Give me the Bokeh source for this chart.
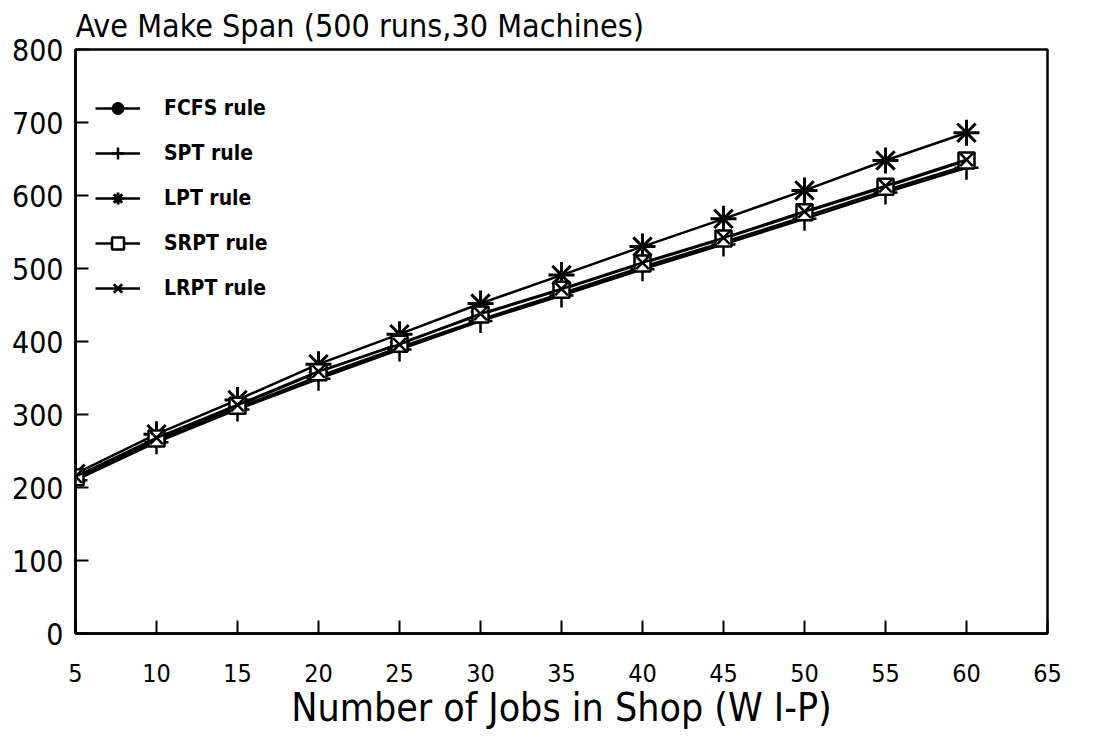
from bokeh.plotting import figure
from bokeh.models import Range1d, FixedTicker, Legend, LegendItem
from bokeh.embed import file_html
from bokeh.resources import INLINE

jobs = [5, 10, 15, 20, 25, 30, 35, 40, 45, 50, 55, 60]
fcfs = [212, 264, 309, 352, 392, 430, 466, 502, 536, 571, 607, 641]
spt = [210, 262, 307, 349, 389, 428, 463, 499, 533, 568, 604, 638]
lpt = [219, 273, 320, 369, 410, 452, 491, 530, 568, 607, 648, 686]
srpt = [214, 267, 312, 358, 397, 437, 471, 507, 541, 577, 612, 648]
lrpt = [215, 268, 313, 359, 396, 438, 472, 508, 542, 578, 613, 649]
x_ticks = [5, 10, 15, 20, 25, 30, 35, 40, 45, 50, 55, 60, 65]
y_ticks = [0, 100, 200, 300, 400, 500, 600, 700, 800]

FONT = "DejaVu Sans Condensed"

p = figure(width=1080, height=732, output_backend="svg", toolbar_location=None,
           x_range=Range1d(5, 65), y_range=Range1d(0, 800),
           min_border_left=75, min_border_right=33, min_border_top=47, min_border_bottom=95,
           title="Ave  Make Span (500 runs,30 Machines)")
p.title.text_font = FONT
p.title.text_font_size = "32px"
p.title.text_font_style = "normal"
p.title.text_color = "black"
p.title.offset = 0
p.title.standoff = 9

p.xgrid.visible = False
p.ygrid.visible = False
p.outline_line_color = "black"
p.outline_line_width = 2.5
p.outline_line_alpha = 1

for ax in (p.xaxis[0], p.yaxis[0]):
    ax.axis_line_width = 2.5
    ax.axis_line_color = "black"
    ax.major_tick_in = 13
    ax.major_tick_out = 0
    ax.major_tick_line_width = 2
    ax.minor_tick_line_color = None
    ax.major_label_text_font = FONT
    ax.major_label_text_color = "black"

p.xaxis.ticker = FixedTicker(ticks=x_ticks)
p.yaxis.ticker = FixedTicker(ticks=y_ticks)
p.xaxis.major_label_text_font_size = "25px"
p.yaxis.major_label_text_font_size = "30px"
p.xaxis.major_label_standoff = 30
p.yaxis.major_label_standoff = 12
p.xaxis.axis_label = "Number of Jobs in Shop (W I-P)"
p.xaxis.axis_label_text_font = FONT
p.xaxis.axis_label_text_font_size = "39px"
p.xaxis.axis_label_text_font_style = "normal"
p.xaxis.axis_label_text_color = "black"
p.xaxis.axis_label_standoff = 0

LW = 2.5
r1 = p.line(jobs, fcfs, line_color="black", line_width=LW)
m1 = p.scatter(jobs, fcfs, marker="circle", size=8, color="black")
r2 = p.line(jobs, spt, line_color="black", line_width=LW)
m2 = p.scatter(jobs, spt, marker="cross", size=24, line_color="black", line_width=2.5)
r3 = p.line(jobs, lpt, line_color="black", line_width=LW)
m3 = p.scatter(jobs, lpt, marker="asterisk", size=26, line_color="black", line_width=3)
r4 = p.line(jobs, srpt, line_color="black", line_width=LW)
m4 = p.scatter(jobs, srpt, marker="square", size=16, line_color="black", fill_color="white", line_width=2.5)
r5 = p.line(jobs, lrpt, line_color="black", line_width=LW)
m5 = p.scatter(jobs, lrpt, marker="x", size=18, line_color="black", line_width=2.5)

legend = Legend(items=[
    LegendItem(label="FCFS rule", renderers=[r1, m1]),
    LegendItem(label="SPT rule", renderers=[r2, m2]),
    LegendItem(label="LPT rule", renderers=[r3, m3]),
    LegendItem(label="SRPT rule", renderers=[r4, m4]),
    LegendItem(label="LRPT rule", renderers=[r5, m5]),
], location=(20, 330))
legend.padding = 0
legend.margin = 0
legend.border_line_color = None
legend.background_fill_alpha = 0
legend.glyph_width = 45
legend.glyph_height = 30
legend.label_height = 30
legend.spacing = 15
legend.label_standoff = 24
legend.label_text_font = FONT
legend.label_text_font_size = "21px"
legend.label_text_font_style = "bold"
legend.label_text_color = "black"
p.add_layout(legend)

open("out.html", "w").write(file_html(p, INLINE))
